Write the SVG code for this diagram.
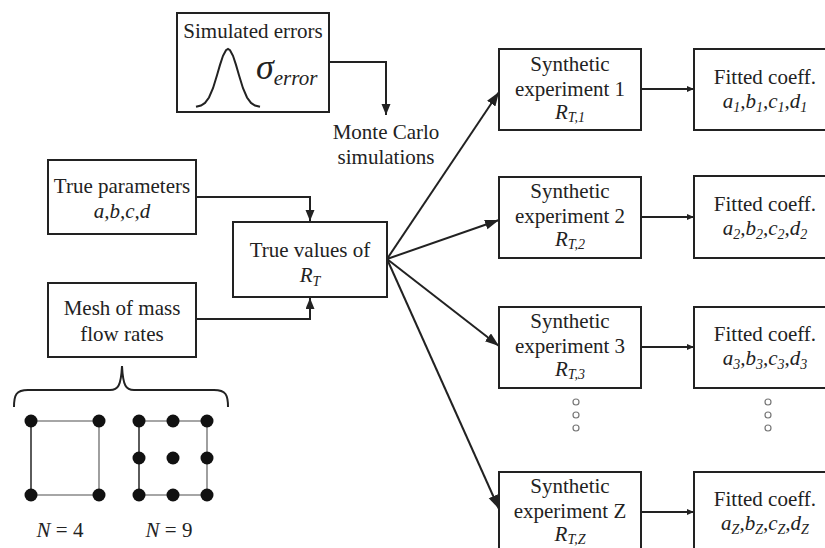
<svg xmlns="http://www.w3.org/2000/svg" width="825" height="548" viewBox="0 0 825 548" font-family="'Liberation Serif', 'Times New Roman', serif">
<defs>
<style>
.box{fill:#fff;stroke:#222;stroke-width:2}
.ln{fill:none;stroke:#222;stroke-width:2}
text{font-family:'Liberation Serif','Times New Roman',serif;font-size:21px;fill:#222;text-anchor:middle}
.it{font-style:italic}
.sub{font-size:14px;font-style:italic}
.dot{fill:#111}
.dk{stroke:#333;stroke-width:1.6}
.gr{stroke:#888;stroke-width:1.6}
.cir{fill:#fff;stroke:#777;stroke-width:1.2}
</style>
<marker id="big" markerUnits="userSpaceOnUse" markerWidth="16" markerHeight="12" refX="14" refY="5" orient="auto"><path d="M0,0 L14,5 L0,10 z" fill="#222"/></marker>
<marker id="med" markerUnits="userSpaceOnUse" markerWidth="13" markerHeight="11" refX="11" refY="4.5" orient="auto"><path d="M0,0 L11,4.5 L0,9 z" fill="#222"/></marker>
<marker id="sm" markerUnits="userSpaceOnUse" markerWidth="9" markerHeight="7" refX="7" refY="3" orient="auto"><path d="M0,0 L7,3 L0,6 z" fill="#222"/></marker>
</defs>
<rect width="825" height="548" fill="#fff"/>

<g id="connectors">
<path class="ln" d="M329,62 H386 V115" marker-end="url(#med)"/>
<path class="ln" d="M196,197 H310 V221" marker-end="url(#med)"/>
<path class="ln" d="M196,319 H310 V298" marker-end="url(#med)"/>
<line class="ln" x1="387" y1="259" x2="499" y2="92" marker-end="url(#big)"/>
<line class="ln" x1="387" y1="259" x2="499" y2="220" marker-end="url(#big)"/>
<line class="ln" x1="387" y1="259" x2="499" y2="346" marker-end="url(#big)"/>
<line class="ln" x1="387" y1="259" x2="499" y2="509" marker-end="url(#big)"/>
<line class="ln" x1="641" y1="89" x2="694" y2="89" marker-end="url(#sm)"/>
<line class="ln" x1="641" y1="217" x2="694" y2="217" marker-end="url(#sm)"/>
<line class="ln" x1="641" y1="347" x2="694" y2="347" marker-end="url(#sm)"/>
<line class="ln" x1="641" y1="512" x2="694" y2="512" marker-end="url(#sm)"/>
</g>

<g id="simulated-errors">
<rect class="box" x="177" y="13" width="152" height="99"/>
<text x="253" y="38">Simulated errors</text>
<polyline class="ln" stroke-width="1.6" points="196,106.8 201,105.5 205,102.9 209,97.5 213,88.2 217,75.3 220,64.9 223,55.8 226,50.2 228,49 230,50.2 233,55.8 236,64.9 239,75.3 243,88.2 247,97.5 251,102.9 255,105.5 260,106.8"/>
<text x="256" y="79" style="text-anchor:start"><tspan class="it" font-size="36">σ</tspan><tspan class="it" dy="6">error</tspan></text>
</g>

<g id="monte-carlo">
<text x="386" y="139">Monte Carlo</text>
<text x="386" y="164">simulations</text>
</g>

<g id="true-parameters">
<rect class="box" x="48" y="160" width="148" height="74"/>
<text x="122" y="193">True parameters</text>
<text x="122" y="218" class="it">a,b,c,d</text>
</g>

<g id="true-values">
<rect class="box" x="233" y="222" width="154" height="75"/>
<text x="310" y="257">True values of</text>
<text x="310" y="282"><tspan class="it">R</tspan><tspan class="sub" dy="4">T</tspan></text>
</g>

<g id="mesh">
<rect class="box" x="48" y="283" width="148" height="74"/>
<text x="122" y="315">Mesh of mass</text>
<text x="122" y="341">flow rates</text>
<path class="ln" stroke-width="1.6" d="M14,407 C14,395 16,390 28,390 L110,390 C118,390 121,386 122,366 C123,386 126,390 134,390 L214,390 C226,390 228,395 228,407"/>
</g>

<g id="grid-n4">
<line class="dk" x1="31" y1="421" x2="31" y2="495"/>
<line class="gr" x1="31" y1="421" x2="99" y2="421"/>
<line class="gr" x1="99" y1="421" x2="99" y2="495"/>
<line class="gr" x1="31" y1="495" x2="99" y2="495"/>
<circle class="dot" cx="31" cy="421" r="6.5"/>
<circle class="dot" cx="99" cy="421" r="6.5"/>
<circle class="dot" cx="31" cy="495" r="6.5"/>
<circle class="dot" cx="99" cy="495" r="6.5"/>
<text x="60" y="537"><tspan class="it">N</tspan> = 4</text>
</g>

<g id="grid-n9">
<line class="dk" x1="139" y1="421" x2="139" y2="495"/>
<line class="gr" x1="139" y1="421" x2="207" y2="421"/>
<line class="gr" x1="207" y1="421" x2="207" y2="495"/>
<line class="gr" x1="139" y1="495" x2="207" y2="495"/>
<circle class="dot" cx="139" cy="421" r="6.5"/>
<circle class="dot" cx="173" cy="421" r="6.5"/>
<circle class="dot" cx="207" cy="421" r="6.5"/>
<circle class="dot" cx="139" cy="458" r="6.5"/>
<circle class="dot" cx="173" cy="458" r="6.5"/>
<circle class="dot" cx="207" cy="458" r="6.5"/>
<circle class="dot" cx="139" cy="495" r="6.5"/>
<circle class="dot" cx="173" cy="495" r="6.5"/>
<circle class="dot" cx="207" cy="495" r="6.5"/>
<text x="169" y="537"><tspan class="it">N</tspan> = 9</text>
</g>

<g id="synthetic-1">
<rect class="box" x="499" y="49" width="142" height="81"/>
<text x="570" y="71">Synthetic</text>
<text x="570" y="96">experiment 1</text>
<text x="570" y="119"><tspan class="it">R</tspan><tspan class="sub" dy="3">T,1</tspan></text>
</g>
<g id="fitted-1">
<rect class="box" x="694" y="49" width="140" height="81"/>
<text x="765" y="84">Fitted coeff.</text>
<text x="765" y="108"><tspan class="it">a</tspan><tspan class="sub" dy="4">1</tspan><tspan class="it" dy="-4">,b</tspan><tspan class="sub" dy="4">1</tspan><tspan class="it" dy="-4">,c</tspan><tspan class="sub" dy="4">1</tspan><tspan class="it" dy="-4">,d</tspan><tspan class="sub" dy="4">1</tspan></text>
</g>

<g id="synthetic-2">
<rect class="box" x="499" y="177" width="142" height="81"/>
<text x="570" y="198">Synthetic</text>
<text x="570" y="223">experiment 2</text>
<text x="570" y="246"><tspan class="it">R</tspan><tspan class="sub" dy="3">T,2</tspan></text>
</g>
<g id="fitted-2">
<rect class="box" x="694" y="176" width="140" height="82"/>
<text x="765" y="211">Fitted coeff.</text>
<text x="765" y="235"><tspan class="it">a</tspan><tspan class="sub" dy="4">2</tspan><tspan class="it" dy="-4">,b</tspan><tspan class="sub" dy="4">2</tspan><tspan class="it" dy="-4">,c</tspan><tspan class="sub" dy="4">2</tspan><tspan class="it" dy="-4">,d</tspan><tspan class="sub" dy="4">2</tspan></text>
</g>

<g id="synthetic-3">
<rect class="box" x="499" y="307" width="142" height="81"/>
<text x="570" y="328">Synthetic</text>
<text x="570" y="353">experiment 3</text>
<text x="570" y="376"><tspan class="it">R</tspan><tspan class="sub" dy="3">T,3</tspan></text>
<circle class="cir" cx="576" cy="402" r="3"/>
<circle class="cir" cx="576" cy="415" r="3"/>
<circle class="cir" cx="576" cy="428" r="3"/>
</g>
<g id="fitted-3">
<rect class="box" x="694" y="307" width="140" height="81"/>
<text x="765" y="341">Fitted coeff.</text>
<text x="765" y="365"><tspan class="it">a</tspan><tspan class="sub" dy="4">3</tspan><tspan class="it" dy="-4">,b</tspan><tspan class="sub" dy="4">3</tspan><tspan class="it" dy="-4">,c</tspan><tspan class="sub" dy="4">3</tspan><tspan class="it" dy="-4">,d</tspan><tspan class="sub" dy="4">3</tspan></text>
<circle class="cir" cx="768" cy="402" r="3"/>
<circle class="cir" cx="768" cy="415" r="3"/>
<circle class="cir" cx="768" cy="428" r="3"/>
</g>

<g id="synthetic-z">
<rect class="box" x="499" y="472" width="142" height="81"/>
<text x="570" y="493">Synthetic</text>
<text x="570" y="518">experiment Z</text>
<text x="570" y="541"><tspan class="it">R</tspan><tspan class="sub" dy="3">T,Z</tspan></text>
</g>
<g id="fitted-z">
<rect class="box" x="694" y="472" width="140" height="81"/>
<text x="765" y="506">Fitted coeff.</text>
<text x="765" y="530"><tspan class="it">a</tspan><tspan class="sub" dy="4">Z</tspan><tspan class="it" dy="-4">,b</tspan><tspan class="sub" dy="4">Z</tspan><tspan class="it" dy="-4">,c</tspan><tspan class="sub" dy="4">Z</tspan><tspan class="it" dy="-4">,d</tspan><tspan class="sub" dy="4">Z</tspan></text>
</g>
</svg>
